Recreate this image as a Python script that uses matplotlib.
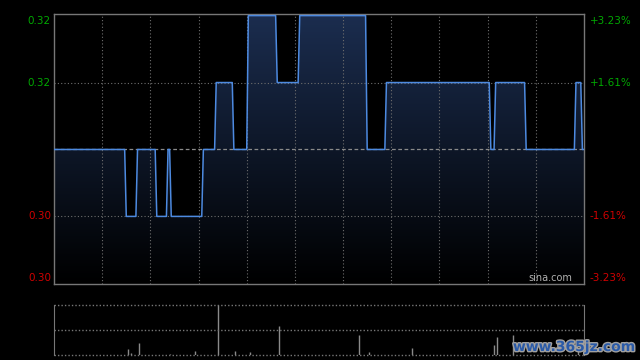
import numpy as np
import matplotlib
matplotlib.use("Agg")
import matplotlib.pyplot as plt
import matplotlib.patheffects as pe

# ------------------------------
# data (minutes after open, price)
# ------------------------------
prev_close = 0.31
change_minute = [0, 45, 52, 64, 71, 73, 93, 101, 112, 121, 139, 153, 195, 207, 272, 275, 294, 325, 329]
change_price = [0.31, 0.305, 0.31, 0.305, 0.31, 0.305, 0.31, 0.315, 0.31, 0.32,
                0.315, 0.32, 0.31, 0.315, 0.31, 0.315, 0.31, 0.315, 0.31]
n_minutes = 331

vol_minute = [46, 48, 53, 72, 88, 102, 113, 122, 140, 190, 196, 223, 274, 276, 286, 326]
vol_value = [6, 2, 12, 1, 4, 50, 4, 3, 29, 20, 3, 7, 10, 18, 20, 5]

left_ticks = [0.32, 0.315, 0.305, 0.30]
left_labels = ["0.32", "0.32", "0.30", "0.30"]
right_labels = ["+3.23%", "+1.61%", "-1.61%", "-3.23%"]

# expand step changes to one price per minute
bounds = change_minute + [n_minutes]
price = np.concatenate([[p] * (bounds[i + 1] - bounds[i]) for i, p in enumerate(change_price)])
t = np.arange(n_minutes)

W, H = 640, 360
fig = plt.figure(figsize=(6.4, 3.6), dpi=100, facecolor="black")

def px_axes(x0, y0, x1, y1):
    return fig.add_axes([x0 / W, 1 - y1 / H, (x1 - x0) / W, (y1 - y0) / H])

ymin, ymax = 0.29995, 0.32012
ax = px_axes(54, 14, 584, 284)
ax.set_facecolor("black")
ax.set_xlim(0, 330)
ax.set_ylim(ymin, ymax)

# gradient fill under the line
grad = np.linspace(1, 0, 256).reshape(-1, 1)
cmap = matplotlib.colors.LinearSegmentedColormap.from_list("g", ["#000000", "#1b2d4f"])
im = ax.imshow(grad, cmap=cmap, aspect="auto", extent=[0, 330, ymin, ymax], origin="upper", zorder=1)
poly = ax.fill_between(t, price, ymin, facecolor="none", edgecolor="none")
im.set_clip_path(poly.get_paths()[0], transform=ax.transData)

# grid
for xv in range(30, 330, 30):
    ax.axvline(xv, color="#6e6e6e", lw=0.8, ls=(0, (1, 2)), zorder=2)
for yv in [0.315, 0.305]:
    ax.axhline(yv, color="#6e6e6e", lw=0.8, ls=(0, (1, 2)), zorder=2)
ax.axhline(prev_close, color="#8a8a8a", lw=0.9, ls=(0, (3, 2)), zorder=2)

ax.plot(t, price, color="#4d8ae0", lw=1.1, zorder=3)

for s in ax.spines.values():
    s.set_color("#777777")
    s.set_linewidth(1)
ax.set_xticks([])
ax.set_yticks([])

trans = matplotlib.transforms.blended_transform_factory(ax.transAxes, ax.transData)
for i, (yv, ll, rl) in enumerate(zip(left_ticks, left_labels, right_labels)):
    col = "#00a800" if yv > prev_close else "#d00000"
    va = "top" if i == 0 else ("bottom" if i == 3 else "center")
    ax.text(-3 / 530, yv, ll, transform=trans, color=col, fontsize=7.5, ha="right", va=va)
    ax.text(1 + 6 / 530, yv, rl, transform=trans, color=col, fontsize=7.5, ha="left", va=va)

ax.text(1 - 12 / 530, 0.3, "sina.com", transform=trans, color="#b0b0b0", fontsize=7,
        ha="right", va="bottom")

# volume panel
vax = px_axes(54, 305, 584, 355)
vax.set_facecolor("black")
vax.set_xlim(0, 330)
vax.set_ylim(0, 50)
vax.vlines(vol_minute, 0, vol_value, color="#8a8a8a", lw=1)
for yv in [50, 25, 0]:
    vax.axhline(yv, color="#777777", lw=1, ls=(0, (1, 1.5)), clip_on=False)
for k in ["top", "bottom"]:
    vax.spines[k].set_visible(False)
for k in ["left", "right"]:
    vax.spines[k].set_color("#777777")
vax.set_xticks([])
vax.set_yticks([])

fig.text(574 / W, 1 - 347 / H, "www.365jz.com", color="#2a5aa8", fontsize=10, fontweight="bold",
         family="DejaVu Sans", ha="center", va="center",
         path_effects=[pe.withStroke(linewidth=2, foreground="#a0a0a0")])

fig.savefig("out.png", dpi=100, facecolor="black")
